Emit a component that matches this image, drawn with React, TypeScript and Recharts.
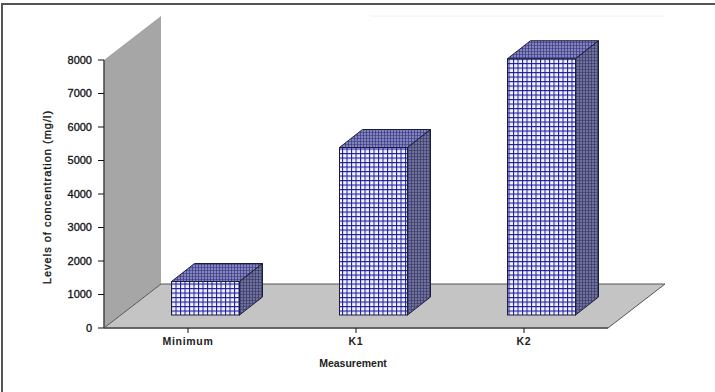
import React from "react";
import { BarChart, Bar, XAxis, YAxis, ReferenceArea, Label } from "recharts";

const categories = ["Minimum", "K1", "K2"];
const concentration = [1000, 5000, 7650];
const yTicks = [0, 1000, 2000, 3000, 4000, 5000, 6000, 7000, 8000];

const rows = categories.map((name, i) => ({ name, value: concentration[i] }));

// Oblique projection of the chart box and of each column inside it.
const BOX_DX = 57;
const BOX_DY = 44;
const BAR_OFFSET_X = 17.5;
const BAR_OFFSET_Y = 13;
const BAR_DX = 23;
const BAR_DY = 18;

const Walls = (props: any) => {
  const { x, y, width, height } = props;
  const b = y + height;
  const r = x + width;
  return (
    <g>
      <polygon
        points={`${x},${y} ${x + BOX_DX},${y - BOX_DY} ${x + BOX_DX},${b - BOX_DY} ${x},${b}`}
        fill="#a6a6a6"
      />
      <line x1={x + BOX_DX} y1={y - BOX_DY} x2={r + BOX_DX} y2={y - BOX_DY} stroke="#f2f2f2" strokeDasharray="0 209 400" />
      <polygon
        points={`${x},${b} ${x + BOX_DX},${b - BOX_DY} ${r + BOX_DX},${b - BOX_DY} ${r},${b}`}
        fill="#c4c4c4"
        stroke="#555"
        strokeWidth={1}
      />
    </g>
  );
};

const Column = (props: any) => {
  const x = props.x + BAR_OFFSET_X;
  const y = props.y - BAR_OFFSET_Y;
  const { width: w, height: h } = props;
  const r = x + w;
  const b = y + h;
  return (
    <g stroke="#1c1c3c" strokeWidth={1}>
      <rect x={x} y={y} width={w} height={h} fill="url(#frontGrid)" />
      <polygon
        points={`${x},${y} ${x + BAR_DX},${y - BAR_DY} ${r + BAR_DX},${y - BAR_DY} ${r},${y}`}
        fill="url(#topGrid)"
      />
      <polygon
        points={`${r},${y} ${r + BAR_DX},${y - BAR_DY} ${r + BAR_DX},${b - BAR_DY} ${r},${b}`}
        fill="url(#sideGrid)"
      />
    </g>
  );
};

const FAMILY = "Liberation Sans, Arial, sans-serif";
const xTickFont = { fontFamily: FAMILY, fontSize: 10.5, fontWeight: 700, fill: "#222", letterSpacing: 0.7 };
const yTickFont = { fontFamily: FAMILY, fontSize: 11, fontWeight: 400, fill: "#111", stroke: "#111", strokeWidth: 0.3 };
const titleFont = { fontFamily: FAMILY, fontSize: 10.5, fontWeight: 700, fill: "#222" };

export default function App() {
  return (
    <div style={{ position: "absolute", left: 0, top: 0, width: 715, height: 392, background: "#fff" }}>
      <div
        style={{
          position: "absolute",
          left: 1,
          top: 3,
          width: 714,
          height: 389,
          borderTop: "2px solid #555",
          borderLeft: "2px solid #555",
          boxSizing: "border-box",
        }}
      />
      <BarChart
        width={715}
        height={392}
        data={rows}
        margin={{ top: 60, right: 107, bottom: 34, left: 44 }}
        barCategoryGap={0}
        style={{ position: "absolute", left: 0, top: 0 }}
      >
        <defs>
          <pattern id="frontGrid" width="4.5" height="4.5" patternUnits="userSpaceOnUse">
            <rect width="4.5" height="4.5" fill="#f4f4ff" />
            <path d="M0.5 0V4.5M0 0.5H4.5" stroke="#1c1c9c" strokeWidth="1.1" />
          </pattern>
          <pattern id="topGrid" width="3" height="3" patternUnits="userSpaceOnUse">
            <rect width="3" height="3" fill="#8484bc" />
            <path d="M0 0V3M0 0H3" stroke="#2c2c78" strokeWidth="1.2" />
          </pattern>
          <pattern id="sideGrid" width="3" height="3" patternUnits="userSpaceOnUse">
            <rect width="3" height="3" fill="#70709c" />
            <path d="M0 0V3M0 0H3" stroke="#30305e" strokeWidth="1.2" />
          </pattern>
        </defs>
        <XAxis
          dataKey="name"
          tick={xTickFont}
          tickLine={{ stroke: "#111" }}
          axisLine={{ stroke: "#555", strokeWidth: 1.5 }}
          tickSize={5}
          tickMargin={5}
          interval={0}
        >
          <Label value="Measurement" position="bottom" offset={2} dx={-3} style={titleFont} />
        </XAxis>
        <YAxis
          domain={[0, 8000]}
          ticks={yTicks}
          tick={yTickFont}
          tickLine={{ stroke: "#111" }}
          axisLine={{ stroke: "#444", strokeWidth: 1.5 }}
          tickSize={6}
          tickMargin={6}
          width={60}
          interval={0}
        >
          <Label
            value="Levels of concentration (mg/l)"
            angle={-90}
            position="center"
            dx={-27}
            dy={3}
            style={{ ...yTickFont, fontSize: 11, letterSpacing: 1, textAnchor: "middle" }}
          />
        </YAxis>
        <ReferenceArea y1={0} y2={8000} shape={<Walls />} ifOverflow="visible" />
        <Bar dataKey="value" barSize={68} shape={<Column />} isAnimationActive={false} />
      </BarChart>
    </div>
  );
}
